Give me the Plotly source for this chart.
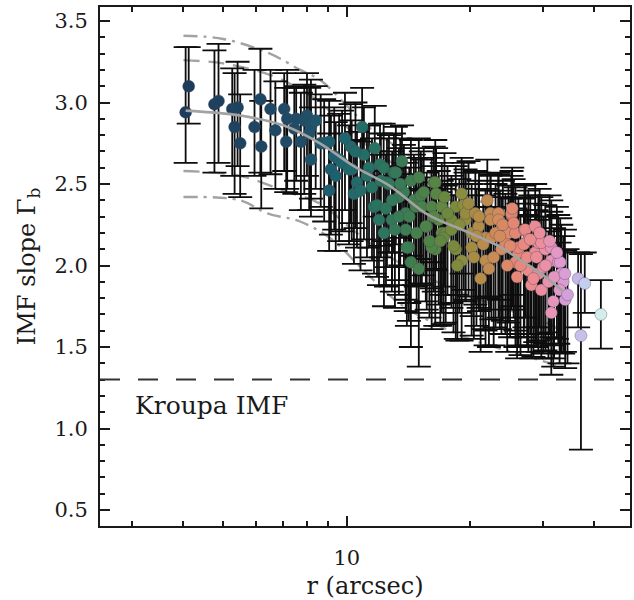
import numpy as np
import plotly.graph_objects as go

# ---------------- data ----------------
r_arcsec = [4.05, 4.12, 4.76, 4.87, 5.26, 5.42, 5.33, 5.50, 6.16, 5.96,
            6.19, 6.52, 6.70, 7.04, 7.16, 7.12, 7.45, 7.53, 7.73, 7.88,
            8.00, 8.18, 8.18, 8.40, 8.10, 8.64, 8.81, 9.06, 9.15, 9.06,
            9.32, 9.58, 9.74, 10.22, 10.28, 10.90, 11.01, 10.59, 10.13, 10.41,
            11.33, 11.52, 11.65, 12.05, 12.11, 11.85, 12.53, 12.67, 12.46, 11.98,
            12.32, 13.03, 13.17, 13.40, 13.63, 13.78, 13.92, 12.88, 13.40, 13.92,
            14.17, 14.57, 14.33, 14.98, 14.73, 15.15, 15.24, 15.66, 14.01, 14.33,
            14.98, 15.58, 16.29, 16.43, 16.51, 16.10, 17.04, 16.43, 16.75, 17.04,
            17.42, 16.29, 16.10, 17.22, 17.99, 17.99, 18.43, 19.05, 19.26, 19.47,
            18.43, 19.05, 19.47, 20.15, 20.57, 20.95, 20.15, 21.19, 21.78, 21.78,
            22.40, 22.40, 22.51, 23.04, 23.42, 23.42, 23.82, 24.35, 25.20, 25.20,
            24.77, 25.76, 25.76, 26.19, 26.19, 27.09, 27.25, 27.70, 27.70, 28.78,
            28.78, 29.29, 29.29, 28.17, 29.79, 30.12, 30.46, 29.79, 31.50, 31.50,
            32.75, 33.12, 33.31, 33.68, 31.85, 34.05, 31.50, 36.62, 38.00, 37.20,
            41.60,
            9.90, 10.50, 11.20, 11.70, 9.40, 10.80, 12.30, 12.90, 13.10, 13.50,
            14.20, 14.80, 15.40, 15.90, 16.90, 17.30, 17.60, 18.20, 18.60, 18.80,
            19.80, 20.40, 20.70, 21.00, 21.50, 22.00, 22.20, 22.80, 23.60, 24.00,
            24.60, 25.00, 25.30, 25.50, 26.00, 26.50, 27.00, 27.50, 28.00, 28.50,
            29.00, 29.50, 30.50, 31.00, 31.20, 32.00, 32.50, 33.00, 34.00, 34.50]
gamma_b = [2.94, 3.10, 2.99, 3.01, 2.96, 2.97, 2.85, 2.75, 3.02, 2.85,
           2.73, 2.96, 2.83, 2.96, 2.90, 2.76, 2.84, 2.90, 2.76, 2.89,
           2.92, 2.85, 2.65, 2.89, 2.81, 2.75, 2.75, 2.76, 2.59, 2.46,
           2.67, 2.65, 2.63, 2.73, 2.59, 2.85, 2.68, 2.51, 2.59, 2.44,
           2.60, 2.48, 2.36, 2.62, 2.52, 2.37, 2.51, 2.50, 2.35, 2.28,
           2.20, 2.57, 2.57, 2.42, 2.64, 2.45, 2.32, 2.28, 2.30, 2.22,
           2.11, 2.40, 2.52, 2.54, 2.36, 2.43, 2.36, 2.24, 2.11, 2.02,
           1.98, 2.24, 2.51, 2.51, 2.44, 2.36, 2.36, 2.10, 2.28, 2.20,
           2.20, 2.30, 2.11, 2.17, 2.22, 2.28, 2.36, 2.44, 2.37, 2.28,
           2.10, 2.03, 2.32, 2.20, 2.32, 2.24, 2.11, 1.92, 2.03, 2.17,
           2.32, 2.28, 2.17, 2.20, 2.32, 2.28, 2.10, 2.14, 2.31, 2.32,
           2.20, 2.20, 2.02, 2.08, 2.11, 2.22, 2.22, 2.16, 1.97, 2.24,
           2.08, 2.14, 1.95, 1.88, 1.85, 1.99, 2.10, 2.14, 2.11, 2.03,
           2.02, 2.02, 1.95, 1.90, 1.78, 1.79, 1.71, 1.92, 1.89, 1.57,
           1.70,
           2.78, 2.70, 2.55, 2.72, 2.55, 2.46, 2.60, 2.40, 2.22, 2.50,
           2.30, 2.20, 2.45, 2.15, 2.15, 2.42, 2.32, 2.12, 2.00, 2.25,
           2.38, 2.05, 2.18, 2.30, 2.13, 2.40, 1.98, 2.05, 2.18, 2.25,
           2.00, 2.12, 2.35, 2.26, 1.93, 2.00, 2.13, 2.05, 2.16, 1.92,
           2.05, 2.20, 2.00, 1.90, 2.15, 1.93, 2.08, 1.85, 1.95, 1.82]
err_up = [0.40, 0.24, 0.33, 0.35, 0.25, 0.28, 0.33, 0.30, 0.31, 0.35,
          0.28, 0.24, 0.30, 0.22, 0.30, 0.33, 0.25, 0.20, 0.30, 0.22,
          0.26, 0.29, 0.32, 0.21, 0.28, 0.30, 0.27, 0.25, 0.33, 0.35,
          0.30, 0.28, 0.32, 0.26, 0.30, 0.24, 0.29, 0.31, 0.27, 0.33,
          0.26, 0.30, 0.34, 0.25, 0.29, 0.31, 0.27, 0.30, 0.33, 0.30,
          0.35, 0.24, 0.28, 0.30, 0.22, 0.29, 0.31, 0.33, 0.30, 0.34,
          0.36, 0.28, 0.25, 0.24, 0.30, 0.27, 0.29, 0.33, 0.35, 0.37,
          0.35, 0.30, 0.22, 0.26, 0.28, 0.30, 0.27, 0.34, 0.30, 0.32,
          0.29, 0.31, 0.35, 0.30, 0.28, 0.27, 0.25, 0.22, 0.26, 0.29,
          0.33, 0.35, 0.27, 0.30, 0.26, 0.28, 0.32, 0.38, 0.33, 0.30,
          0.24, 0.27, 0.29, 0.30, 0.25, 0.28, 0.32, 0.30, 0.24, 0.26,
          0.29, 0.28, 0.33, 0.30, 0.31, 0.27, 0.28, 0.30, 0.34, 0.26,
          0.30, 0.29, 0.33, 0.35, 0.30, 0.31, 0.27, 0.28, 0.29, 0.30,
          0.29, 0.27, 0.30, 0.28, 0.32, 0.30, 0.30, 0.16, 0.19, 0.50,
          0.21,
          0.28, 0.30, 0.31, 0.26, 0.33, 0.30, 0.27, 0.30, 0.32, 0.28,
          0.30, 0.31, 0.27, 0.33, 0.30, 0.27, 0.29, 0.31, 0.34, 0.28,
          0.26, 0.31, 0.29, 0.27, 0.30, 0.25, 0.33, 0.31, 0.28, 0.27,
          0.30, 0.29, 0.25, 0.27, 0.32, 0.30, 0.28, 0.29, 0.27, 0.31,
          0.29, 0.27, 0.30, 0.31, 0.28, 0.30, 0.28, 0.29, 0.27, 0.28]
err_dn = [0.31, 0.23, 0.42, 0.38, 0.41, 0.36, 0.41, 0.33, 0.45, 0.30,
          0.38, 0.40, 0.36, 0.38, 0.43, 0.31, 0.40, 0.38, 0.42, 0.45,
          0.37, 0.44, 0.35, 0.42, 0.47, 0.39, 0.48, 0.42, 0.40, 0.37,
          0.45, 0.50, 0.42, 0.47, 0.44, 0.38, 0.52, 0.40, 0.46, 0.43,
          0.49, 0.45, 0.41, 0.50, 0.47, 0.44, 0.52, 0.42, 0.48, 0.40,
          0.45, 0.49, 0.44, 0.51, 0.47, 0.46, 0.53, 0.44, 0.48, 0.50,
          0.45, 0.52, 0.46, 0.50, 0.49, 0.55, 0.47, 0.51, 0.48, 0.52,
          0.60, 0.46, 0.49, 0.53, 0.47, 0.50, 0.54, 0.47, 0.52, 0.49,
          0.55, 0.46, 0.50, 0.53, 0.48, 0.51, 0.54, 0.49, 0.52, 0.50,
          0.55, 0.49, 0.53, 0.51, 0.56, 0.50, 0.54, 0.45, 0.52, 0.57,
          0.51, 0.55, 0.50, 0.58, 0.53, 0.60, 0.52, 0.56, 0.58, 0.50,
          0.55, 0.60, 0.52, 0.57, 0.55, 0.60, 0.54, 0.58, 0.50, 0.62,
          0.55, 0.60, 0.48, 0.45, 0.42, 0.53, 0.58, 0.56, 0.55, 0.52,
          0.50, 0.55, 0.48, 0.44, 0.40, 0.42, 0.38, 0.30, 0.18, 0.70,
          0.21,
          0.44, 0.47, 0.50, 0.42, 0.46, 0.49, 0.45, 0.52, 0.48, 0.50,
          0.53, 0.49, 0.51, 0.47, 0.52, 0.55, 0.50, 0.53, 0.46, 0.54,
          0.57, 0.50, 0.55, 0.58, 0.52, 0.60, 0.48, 0.54, 0.57, 0.59,
          0.53, 0.56, 0.60, 0.58, 0.50, 0.55, 0.57, 0.54, 0.58, 0.48,
          0.55, 0.58, 0.52, 0.47, 0.56, 0.50, 0.53, 0.45, 0.48, 0.42]

# median profile and envelopes
median_r = [4.05, 5.5, 7.0, 8.6, 10.4, 12.7, 15.8, 19.5, 23.4, 27.0, 30.5, 33.7]
median_g = [2.95, 2.92, 2.86, 2.75, 2.61, 2.49, 2.31, 2.21, 2.12, 2.02, 1.93, 1.84]

upper_r = [4.0, 5.0, 6.5, 7.7, 8.6, 10.1, 11.3, 14.6, 16.7, 20.9, 25.2, 29.8, 33.3]
upper_outer_g = [3.41, 3.39, 3.30, 3.20, 3.14, 2.97, 2.85, 2.65, 2.52, 2.40, 2.30, 2.22, 2.16]
upper_inner_g = [3.26, 3.24, 3.17, 3.08, 3.00, 2.84, 2.73, 2.54, 2.44, 2.32, 2.22, 2.14, 2.08]

lower_inner_r = [4.0, 5.5, 7.0, 8.6, 10.1, 11.5, 14.0, 18.0, 24.0, 30.0, 33.3]
lower_inner_g = [2.58, 2.55, 2.46, 2.38, 2.24, 2.13, 1.99, 1.86, 1.74, 1.66, 1.60]
lower_outer_r = [4.0, 5.5, 6.4, 7.7, 9.2, 10.8, 13.4, 16.5, 20.4, 26.0, 32.3]
lower_outer_g = [2.42, 2.40, 2.32, 2.27, 2.16, 1.99, 1.77, 1.64, 1.54, 1.46, 1.39]

kroupa_slope = 1.3

x_major_ticks = [10]
x_major_labels = ["10"]
x_minor_ticks = [3, 4, 5, 6, 7, 8, 9, 20, 30, 40]

# ---------------- style ----------------
FONT = "DejaVu Serif"
INK = "#1a1a1a"
GREY = "#a3a3a3"

colorscale = [
    [0.00, "#1d3b5c"], [0.28, "#1f4c67"], [0.37, "#1d6270"], [0.47, "#2a7560"],
    [0.59, "#4f8446"], [0.65, "#7d8c3a"], [0.70, "#b08c45"], [0.75, "#d18b5a"],
    [0.80, "#e8877a"], [0.86, "#ec8fa2"], [0.90, "#e09ad0"], [0.93, "#c8a6e0"],
    [0.96, "#c4d2f0"], [1.00, "#d6f0ea"],
]

fig = go.Figure()

def envelope(xs, ys, dash):
    fig.add_trace(go.Scatter(x=xs, y=ys, mode="lines",
                             line=dict(color=GREY, width=2.4, dash=dash),
                             hoverinfo="skip", line_shape="spline"))

envelope(upper_r, upper_outer_g, "14px,6px,3px,6px")
envelope(upper_r, upper_inner_g, "16px,9px")
envelope(lower_inner_r, lower_inner_g, "16px,9px")
envelope(lower_outer_r, lower_outer_g, "14px,6px,3px,6px")

logr = np.log10(np.array(r_arcsec))
fig.add_trace(go.Scatter(
    x=r_arcsec, y=gamma_b, mode="markers",
    error_y=dict(type="data", symmetric=False, array=err_up, arrayminus=err_dn,
                 color="#0d0d0d", thickness=1.8, width=12),
    marker=dict(size=12, color=logr, colorscale=colorscale,
                cmin=float(np.log10(4.0)), cmax=float(np.log10(42.0)),
                line=dict(width=0.6, color="rgba(70,70,90,0.6)")),
))

fig.add_trace(go.Scatter(x=median_r, y=median_g, mode="lines",
                         line=dict(color=GREY, width=2.6), line_shape="spline",
                         hoverinfo="skip"))

fig.add_hline(y=kroupa_slope, line=dict(color="#333333", width=2, dash="20px,18px"))

fig.add_annotation(x=np.log10(3.02), y=1.14, xref="x", yref="y",
                   text="Kroupa IMF", showarrow=False, xanchor="left",
                   yanchor="middle", font=dict(family=FONT, size=25, color=INK))

plot_w = 634 - 100 - 2
left_log = 0.3988
fig.update_layout(
    width=634, height=600,
    margin=dict(l=100, r=2, t=7, b=74),
    plot_bgcolor="white", paper_bgcolor="white",
    showlegend=False,
    font=dict(family=FONT, color=INK),
    xaxis=dict(
        type="log", range=[left_log, left_log + plot_w / 412.0],
        tickmode="array", tickvals=x_major_ticks, ticktext=x_major_labels,
        ticks="inside", ticklen=10, tickwidth=1.6, tickcolor=INK,
        showline=True, linecolor=INK, linewidth=2, mirror="ticks",
        showgrid=False, zeroline=False,
        tickfont=dict(family=FONT, size=21, color=INK),
        ticklabelstandoff=12,
        minor=dict(tickmode="array", tickvals=x_minor_ticks, ticks="inside",
                   ticklen=5, tickwidth=1.6, tickcolor=INK, showgrid=False),
        title=dict(text="r (arcsec)", font=dict(family=FONT, size=24, color=INK),
                   standoff=8),
    ),
    yaxis=dict(
        range=[0.402, 3.586], tick0=0.5, dtick=0.5, tickformat=".1f",
        ticks="inside", ticklen=10, tickwidth=1.6, tickcolor=INK,
        showline=True, linecolor=INK, linewidth=2, mirror="ticks",
        showgrid=False, zeroline=False,
        tickfont=dict(family=FONT, size=21, color=INK),
        ticklabelstandoff=6,
        minor=dict(dtick=0.1, ticks="inside", ticklen=5, tickwidth=1.6,
                   tickcolor=INK, showgrid=False),
        title=dict(text="IMF slope Γ<sub>b</sub>",
                   font=dict(family=FONT, size=24, color=INK), standoff=12),
    ),
)

fig.write_html("out.html")
